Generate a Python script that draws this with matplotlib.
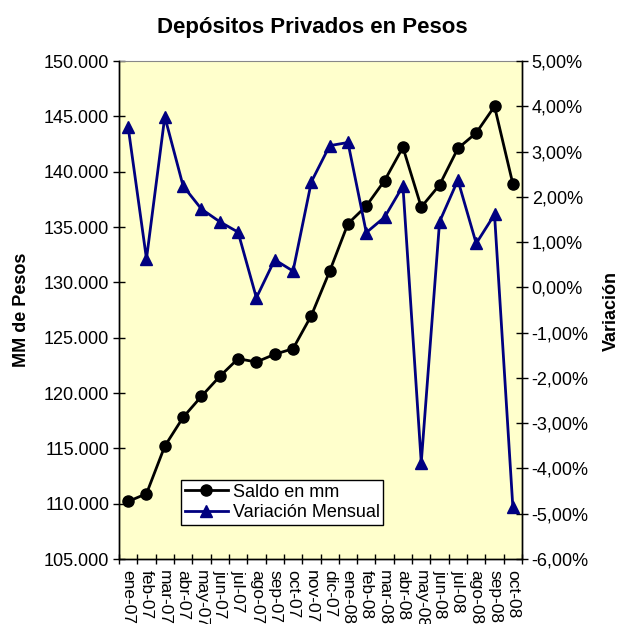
import matplotlib
matplotlib.use("Agg")
import matplotlib.pyplot as plt
import numpy as np

plt.rcParams['font.family'] = ['Liberation Sans', 'DejaVu Sans']

months = ["ene-07", "feb-07", "mar-07", "abr-07", "may-07", "jun-07", "jul-07",
          "ago-07", "sep-07", "oct-07", "nov-07", "dic-07", "ene-08", "feb-08",
          "mar-08", "abr-08", "may-08", "jun-08", "jul-08", "ago-08", "sep-08", "oct-08"]
saldo = [110.2, 110.9, 115.2, 117.8, 119.7, 121.5, 123.1, 122.8, 123.5, 124.0, 127.0,
         131.0, 135.3, 136.9, 139.2, 142.2, 136.8, 138.8, 142.1, 143.5, 145.9, 138.9]
variacion = [3.54, 0.63, 3.77, 2.24, 1.73, 1.45, 1.22, -0.23, 0.61, 0.36, 2.33,
             3.13, 3.20, 1.21, 1.55, 2.24, -3.87, 1.45, 2.37, 0.97, 1.61, -4.85]
left_ticks = [105, 110, 115, 120, 125, 130, 135, 140, 145, 150]
left_labels = ["105.000", "110.000", "115.000", "120.000", "125.000", "130.000",
               "135.000", "140.000", "145.000", "150.000"]
right_ticks = [-6, -5, -4, -3, -2, -1, 0, 1, 2, 3, 4, 5]
right_labels = ["-6,00%", "-5,00%", "-4,00%", "-3,00%", "-2,00%", "-1,00%", "0,00%",
                "1,00%", "2,00%", "3,00%", "4,00%", "5,00%"]

W, H = 619, 624
fig = plt.figure(figsize=(W/100, H/100), dpi=100)
L, R, T, B = 119, 522, 61, 559
ax = fig.add_axes([L/W, 1-B/H, (R-L)/W, (B-T)/H])
ax.set_facecolor('#FFFFCC')
ax2 = ax.twinx()

x = np.arange(len(months))
l1, = ax.plot(x, saldo, color='black', lw=2, marker='o', ms=8, label='Saldo en mm')
l2, = ax2.plot(x, variacion, color='#000080', lw=2, marker='^', ms=9, label='Variación Mensual')

ax.set_xlim(-0.5, len(months) - 0.5)
ax.set_ylim(105, 150)
ax2.set_ylim(-6, 5)

ax.set_yticks(left_ticks)
ax.set_yticklabels(left_labels, fontsize=13)
ax2.set_yticks(right_ticks)
ax2.set_yticklabels(right_labels, fontsize=13)

ax.set_xticks(np.arange(-0.5, len(months)), minor=False)
ax.set_xticklabels([])
ax.set_xticks(x, minor=True)
ax.set_xticklabels(months, minor=True, rotation=-90, fontsize=12.5, va='top', ha='center')
ax.tick_params(axis='x', which='minor', length=0, pad=8)
ax.tick_params(axis='x', which='major', direction='inout', length=7, width=1)
ax.tick_params(axis='y', direction='inout', length=8, width=1, pad=3)
ax2.tick_params(axis='y', direction='inout', length=8, width=1, pad=3)

for a in (ax, ax2):
    a.spines['top'].set_visible(False)
    for s in ('left', 'right', 'bottom'):
        a.spines[s].set_linewidth(1)
ax.spines['top'].set_visible(True)
ax.spines['top'].set_color('#888888')

fig.text(22/W, 1-310/H, 'MM de Pesos', fontsize=13, fontweight='bold',
         rotation=90, ha='center', va='center')
fig.text(611/W, 1-311/H, 'Variación', fontsize=13, fontweight='bold',
         rotation=90, ha='center', va='center')
fig.text(312/W, 1-27/H, 'Depósitos Privados en Pesos', fontsize=16,
         fontweight='bold', ha='center', va='center')

leg = ax2.legend(handles=[l1, l2], loc='lower left',
                 bbox_to_anchor=((181-L)/(R-L), (B-525)/(B-T), 202/(R-L), 50/(B-T)),
                 mode='expand', fontsize=13, frameon=True, fancybox=False,
                 edgecolor='black', facecolor='white', framealpha=1,
                 borderpad=0.2, labelspacing=0.2, handlelength=2.4,
                 handletextpad=0.3, borderaxespad=0)
leg.get_frame().set_linewidth(1)

fig.savefig('out.png', dpi=100)
